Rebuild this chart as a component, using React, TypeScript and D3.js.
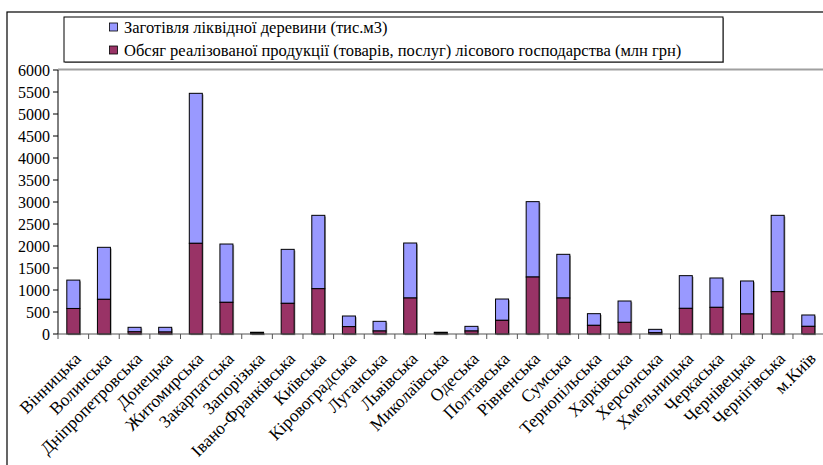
import React from "react";
import * as d3 from "d3";

const regions = [
  "Вінницька", "Волинська", "Дніпропетровська", "Донецька", "Житомирська",
  "Закарпатська", "Запорізька", "Івано-Франківська", "Київська", "Кіровоградська",
  "Луганська", "Львівська", "Миколаївська", "Одеська", "Полтавська",
  "Рівненська", "Сумська", "Тернопільська", "Харківська", "Херсонська",
  "Хмельницька", "Черкаська", "Чернівецька", "Чернігівська", "м.Київ",
];

// Обсяг реалізованої продукції (млн грн) — bottom segment
const salesValues = [
  580, 788, 50, 45, 2061, 720, 20, 697, 1030, 167,
  68, 818, 20, 68, 311, 1295, 818, 197, 265, 30,
  583, 606, 455, 962, 174,
];

// Заготівля ліквідної деревини (тис.м3) — top segment
const timberValues = [
  645, 1182, 102, 107, 3409, 1325, 20, 1227, 1667, 242,
  220, 1250, 20, 106, 484, 1713, 993, 265, 485, 76,
  743, 667, 750, 1735, 258,
];

const yTicks = [0, 500, 1000, 1500, 2000, 2500, 3000, 3500, 4000, 4500, 5000, 5500, 6000];

const legendLabels = [
  "Заготівля ліквідної деревини (тис.м3)",
  "Обсяг реалізованої продукції (товарів, послуг) лісового господарства (млн грн)",
];

const BLUE = "#9999FF";
const PURPLE = "#993366";
const FONT = "Liberation Serif, DejaVu Serif, serif";

export default function App() {
  const W = 823, H = 465;
  const left = 58, right = 823.6, top = 70, bottom = 334;

  const x = d3.scaleBand<string>().domain(regions).range([left, right]).paddingInner(0.575).paddingOuter(0.2875);
  const y = d3.scaleLinear().domain([0, 6000]).range([bottom, top]);
  const step = x.step();
  const ts = { fontFamily: FONT };

  return (
    <svg width={W} height={H} style={{ position: "absolute", left: 0, top: 0, background: "#fff" }}>
      {/* outer chart border */}
      <rect x={7} y={12} width={900} height={500} fill="none" stroke="#000" strokeWidth={1.2} />

      {/* legend */}
      <rect x={65} y={18} width={659} height={45} fill="#999" />
      <rect x={64} y={17} width={659} height={45} fill="#fff" stroke="#000" strokeWidth={1} />
      {legendLabels.map((t, i) => (
        <g key={t}>
          <rect x={109.5} y={[23, 46][i]} width={8} height={8} fill={[BLUE, PURPLE][i]} stroke="#000" strokeWidth={0.8} />
          <text x={124} y={[27, 50][i]} dy="0.35em" fontSize={16.5} fill="#000" style={ts}>{t}</text>
        </g>
      ))}

      {/* plot area top border */}
      <line x1={left} x2={W} y1={top - 0.5} y2={top - 0.5} stroke="#a0a0a0" strokeWidth={2} />

      {/* bars */}
      {regions.map((r, i) => {
        const bx = x(r)!;
        const bw = x.bandwidth();
        const s = salesValues[i];
        const t = timberValues[i];
        const yS = y(s);
        const yT = y(s + t);
        return (
          <g key={r}>
            <rect x={bx + 1.2} y={yT + 1.2} width={bw} height={bottom - yT} fill="#9a9a9a" />
            <rect x={bx} y={yT} width={bw} height={yS - yT} fill={BLUE} stroke="#000" strokeWidth={1} />
            <rect x={bx} y={yS} width={bw} height={bottom - yS} fill={PURPLE} stroke="#000" strokeWidth={1} />
          </g>
        );
      })}

      {/* y axis */}
      <line x1={left} x2={left} y1={top} y2={bottom} stroke="#000" strokeWidth={1} />
      {yTicks.map((v) => (
        <g key={v}>
          <line x1={left - 5} x2={left} y1={y(v)} y2={y(v)} stroke="#000" strokeWidth={1} />
          <text x={left - 8} y={y(v)} dy="0.35em" textAnchor="end" fontSize={16} fill="#000" style={ts}>{v}</text>
        </g>
      ))}

      {/* x axis */}
      <line x1={left} x2={W} y1={bottom} y2={bottom} stroke="#555" strokeWidth={1.2} />
      {regions.map((r, i) => (
        <line key={"t" + r} x1={left + i * step} x2={left + i * step} y1={bottom} y2={bottom + 5} stroke="#555" strokeWidth={1} />
      ))}
      {regions.map((r) => {
        const cx = x(r)! + x.bandwidth() / 2;
        return (
          <text key={"l" + r} transform={`translate(${cx},${bottom + 17}) rotate(-45)`} textAnchor="end" dy="0.7em" fontSize={17.5} fill="#000" style={ts}>
            {r}
          </text>
        );
      })}
    </svg>
  );
}
